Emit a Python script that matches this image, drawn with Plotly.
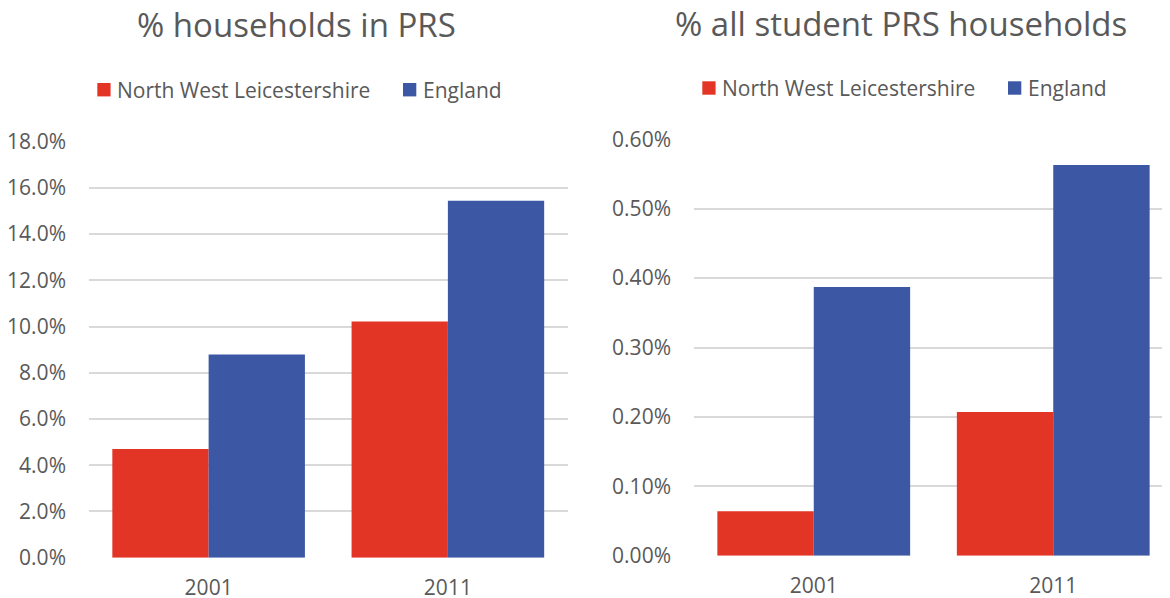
import plotly.graph_objects as go

years = ["2001", "2011"]
series_names = ["North West Leicestershire", "England"]
prs_nwl = [4.70, 10.22]
prs_eng = [8.79, 15.44]
student_nwl = [0.064, 0.207]
student_eng = [0.387, 0.563]
titles = ["% households in PRS", "% all student PRS households"]

RED = "#E33526"
BLUE = "#3C57A3"
GREY = "#595959"
GRID = "#D9D9D9"
FONT = "Open Sans"
colors = [RED, BLUE]

# The page body has an 8px margin, so the figure is drawn 8px in from the
# window's top-left corner; work in window pixels and convert.
OFF = 8
W, H = 1170 - OFF, 598 - OFF


def px_x(p):
    return (p - OFF) / W


def px_y(p):
    return 1 - (p - OFF) / H


fig = go.Figure()
for vals, name, col in zip([prs_nwl, prs_eng], series_names, colors):
    fig.add_trace(go.Bar(x=years, y=vals, name=name, marker_color=col,
                         marker_line_width=0, xaxis="x", yaxis="y", showlegend=False))
for vals, name, col in zip([student_nwl, student_eng], series_names, colors):
    fig.add_trace(go.Bar(x=years, y=vals, name=name, marker_color=col,
                         marker_line_width=0, xaxis="x2", yaxis="y2", showlegend=False))

xcommon = dict(type="category", showgrid=False, zeroline=False, showline=False,
               ticks="", tickfont=dict(family=FONT, size=21, color=GREY),
               ticklabelstandoff=15, automargin=False, fixedrange=True)
ycommon = dict(showgrid=True, gridcolor=GRID, gridwidth=2, zeroline=False,
               showline=False, ticks="", tickfont=dict(family=FONT, size=21, color=GREY),
               ticklabelstandoff=22, ticksuffix="%", automargin=False, fixedrange=True)

shapes = []
annotations = []
legend_specs = [
    (89.7, [97.3, 403.0]),
    (88.0, [702.3, 1008.0]),
]
for cy, starts in legend_specs:
    for name, col, sx in zip(series_names, colors, starts):
        shapes.append(dict(type="rect", xref="paper", yref="paper",
                           x0=px_x(sx), x1=px_x(sx + 13.3),
                           y0=px_y(cy + 6.7), y1=px_y(cy - 6.7),
                           fillcolor=col, line_width=0))
        annotations.append(dict(text=name, x=px_x(sx + 17.5), y=px_y(cy),
                                xref="paper", yref="paper", xanchor="left",
                                yanchor="middle", showarrow=False,
                                font=dict(family=FONT, size=21, color=GREY)))

annotations.append(dict(text=titles[0], x=px_x(296.5), y=px_y(25), xref="paper",
                        yref="paper", xanchor="center", yanchor="middle",
                        showarrow=False, font=dict(family=FONT, size=33, color=GREY)))
annotations.append(dict(text=titles[1], x=px_x(901), y=px_y(23), xref="paper",
                        yref="paper", xanchor="center", yanchor="middle",
                        showarrow=False, font=dict(family=FONT, size=33, color=GREY)))

fig.update_layout(
    width=W, height=H,
    margin=dict(l=0, r=0, t=0, b=0),
    paper_bgcolor="white", plot_bgcolor="white",
    barmode="group", bargap=0.195, bargroupgap=0,
    font=dict(family=FONT, color=GREY),
    showlegend=False,
    xaxis=dict(xcommon, domain=[px_x(89), px_x(567.5)], anchor="y", range=[-0.5, 1.5]),
    yaxis=dict(ycommon, domain=[px_y(557.7), px_y(141.7)], anchor="x",
               range=[0, 18], dtick=2, tickformat=".1f"),
    xaxis2=dict(xcommon, domain=[px_x(694), 1.0], anchor="y2", range=[-0.5, 1.4875]),
    yaxis2=dict(ycommon, domain=[px_y(555.7), px_y(139.3)], anchor="x2",
                range=[0, 0.6], dtick=0.1, tickformat=".2f"),
    shapes=shapes,
    annotations=annotations,
)

fig.write_html("out.html")
